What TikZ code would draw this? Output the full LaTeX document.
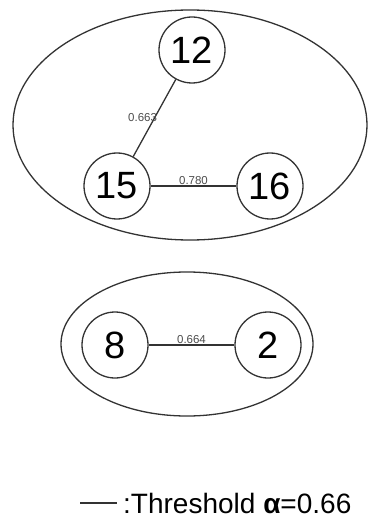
\documentclass[tikz,border=0pt]{standalone}
\usepackage{fontspec}
\setmainfont{Liberation Sans}
\begin{document}
\begin{tikzpicture}[x=1pt,y=-1pt,
  num/.style={circle,draw=black!80,line width=1.3pt,minimum size=66pt,inner sep=0pt,font=\fontsize{38}{38}\selectfont},
  grp/.style={draw=black!80,line width=1.3pt},
  edge/.style={draw=black!80,line width=1.3pt},
  wlab/.style={font=\fontsize{11.5}{11.5}\selectfont,text=black!70,inner sep=1pt}]
\useasboundingbox (0,0) rectangle (368,521);
\draw[grp] (190,125) ellipse [x radius=177,y radius=115];
\draw[grp] (187,344) ellipse [x radius=126,y radius=72];
\node[num] (n12) at (192,50) {12};
\node[num] (n15) at (117,186) {15};
\node[num] (n16) at (270,186) {16};
\node[num] (n8) at (115,345) {8};
\node[num] (n2) at (268,345) {2};
\draw[edge] (n12) -- node[wlab,pos=0.45,left,xshift=2pt,yshift=-3pt] {0.663} (n15);
\draw[edge] (n15) -- node[wlab,above] {0.780} (n16);
\draw[edge] (n8) -- node[wlab,above] {0.664} (n2);
\coordinate (la) at (80,503);
\coordinate (lb) at (117,503);
\draw[edge,line width=1.6pt] (la) -- (lb);
\node[anchor=base west,inner sep=0pt,font=\fontsize{28}{28}\selectfont] (lt) at (123,513) {:Threshold \textbf{α}=0.66};
\end{tikzpicture}
\end{document}
